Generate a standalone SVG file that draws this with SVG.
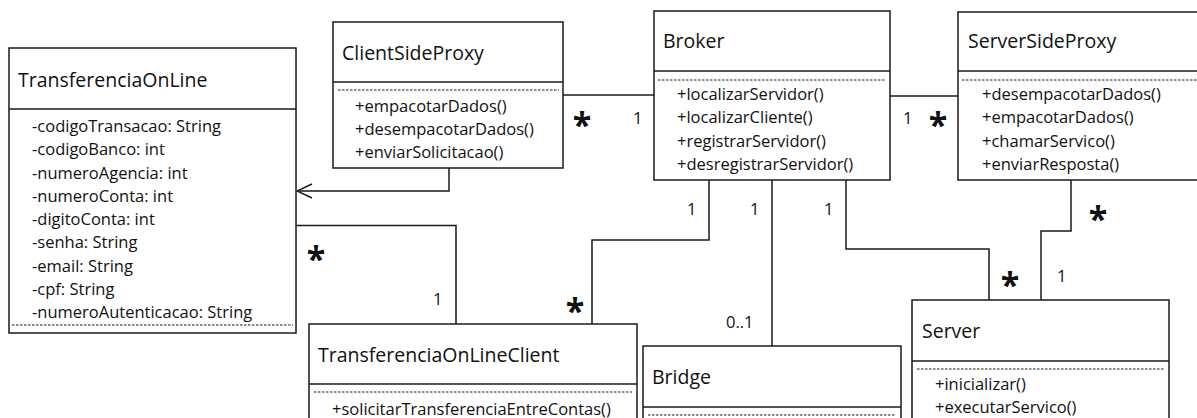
<svg xmlns="http://www.w3.org/2000/svg" width="1197" height="418" viewBox="0 0 1197 418">
<defs>
<style>
.box{fill:#fff;stroke:#1a1a1a;stroke-width:1.5}
.div{stroke:#1a1a1a;stroke-width:1.5}
.dash{stroke:#1a1a1a;stroke-width:1;stroke-dasharray:2.5,1.5}
.title{font-family:"Open Sans","Liberation Sans",sans-serif;font-size:19.5px;fill:#111}
.mem{font-family:"Open Sans","Liberation Sans",sans-serif;font-size:16.5px;fill:#111}
.lbl{font-family:"Open Sans","Liberation Sans",sans-serif;font-size:16.5px;fill:#111}
.star{font-family:"Open Sans","Liberation Sans",sans-serif;font-size:34px;font-weight:bold;fill:#111;text-anchor:middle}
.conn{fill:none;stroke:#1a1a1a;stroke-width:1.5}
</style>
<marker id="open" viewBox="0 0 20 20" refX="19" refY="10" markerWidth="20" markerHeight="20" markerUnits="userSpaceOnUse" orient="auto">
<path d="M4,3 L19,10 L4,17" fill="none" stroke="#1a1a1a" stroke-width="1.5"/>
</marker>
</defs>
<rect width="1197" height="418" fill="#fff"/>

<g id="connectors">
<path class="conn" d="M563,95 H654"/>
<path class="conn" d="M890,96 H958"/>
<path class="conn" d="M449,168 V191 H297" marker-end="url(#open)"/>
<path class="conn" d="M296,225.5 H456 V324"/>
<path class="conn" d="M709,180 V240 H592 V324"/>
<path class="conn" d="M772,180 V346"/>
<path class="conn" d="M846,180 V249 H989 V300"/>
<path class="conn" d="M1071,180 V231 H1041 V300"/>
<text class="star" x="582" y="137">*</text>
<text class="lbl" x="633" y="124">1</text>
<text class="lbl" x="903" y="124">1</text>
<text class="star" x="938" y="137">*</text>
<text class="star" x="316" y="271">*</text>
<text class="lbl" x="433" y="305">1</text>
<text class="star" x="575" y="323">*</text>
<text class="lbl" x="687" y="215">1</text>
<text class="lbl" x="750" y="215">1</text>
<text class="lbl" x="726" y="328">0..1</text>
<text class="lbl" x="824" y="215">1</text>
<text class="star" x="1010" y="297">*</text>
<text class="star" x="1098" y="231">*</text>
<text class="lbl" x="1057" y="282">1</text>
</g>

<g id="TransferenciaOnLine">
<rect class="box" x="9" y="48" width="287" height="285"/>
<line class="div" x1="9" y1="109" x2="296" y2="109"/>
<line class="dash" x1="12" y1="325" x2="293" y2="325"/>
<text class="title" x="18" y="87">TransferenciaOnLine</text>
<text class="mem" x="32" y="132">-codigoTransacao: String</text>
<text class="mem" x="32" y="155.25">-codigoBanco: int</text>
<text class="mem" x="32" y="178.5">-numeroAgencia: int</text>
<text class="mem" x="32" y="201.75">-numeroConta: int</text>
<text class="mem" x="32" y="225">-digitoConta: int</text>
<text class="mem" x="32" y="248.25">-senha: String</text>
<text class="mem" x="32" y="271.5">-email: String</text>
<text class="mem" x="32" y="294.75">-cpf: String</text>
<text class="mem" x="32" y="318">-numeroAutenticacao: String</text>
</g>

<g id="ClientSideProxy">
<rect class="box" x="333" y="22" width="230" height="146"/>
<line class="div" x1="333" y1="82" x2="563" y2="82"/>
<line class="dash" x1="338" y1="90" x2="559" y2="90"/>
<text class="title" x="342" y="60">ClientSideProxy</text>
<text class="mem" x="355" y="112">+empacotarDados()</text>
<text class="mem" x="355" y="135">+desempacotarDados()</text>
<text class="mem" x="355" y="158">+enviarSolicitacao()</text>
</g>

<g id="Broker">
<rect class="box" x="654" y="11" width="236" height="169"/>
<line class="div" x1="654" y1="71" x2="890" y2="71"/>
<line class="dash" x1="658" y1="80" x2="886" y2="80"/>
<text class="title" x="663" y="48">Broker</text>
<text class="mem" x="677" y="100">+localizarServidor()</text>
<text class="mem" x="677" y="123">+localizarCliente()</text>
<text class="mem" x="677" y="147">+registrarServidor()</text>
<text class="mem" x="677" y="170">+desregistrarServidor()</text>
</g>

<g id="ServerSideProxy">
<rect class="box" x="958" y="12" width="260" height="168"/>
<line class="div" x1="958" y1="71" x2="1218" y2="71"/>
<line class="dash" x1="962" y1="80" x2="1197" y2="80"/>
<text class="title" x="968" y="48">ServerSideProxy</text>
<text class="mem" x="982" y="100">+desempacotarDados()</text>
<text class="mem" x="982" y="123">+empacotarDados()</text>
<text class="mem" x="982" y="147">+chamarServico()</text>
<text class="mem" x="982" y="170">+enviarResposta()</text>
</g>

<g id="Server">
<rect class="box" x="912" y="300" width="257" height="130"/>
<line class="div" x1="912" y1="361" x2="1169" y2="361"/>
<line class="dash" x1="917" y1="369" x2="1164" y2="369"/>
<text class="title" x="922" y="338">Server</text>
<text class="mem" x="935" y="390">+inicializar()</text>
<text class="mem" x="935" y="413">+executarServico()</text>
</g>

<g id="TransferenciaOnLineClient">
<rect class="box" x="309" y="324" width="328" height="110"/>
<line class="div" x1="309" y1="384" x2="637" y2="384"/>
<line class="dash" x1="314" y1="392" x2="632" y2="392"/>
<text class="title" x="318" y="362">TransferenciaOnLineClient</text>
<text class="mem" x="332" y="415">+solicitarTransferenciaEntreContas()</text>
</g>

<g id="Bridge">
<rect class="box" x="643" y="346" width="258" height="90"/>
<line class="div" x1="643" y1="407" x2="901" y2="407"/>
<line class="dash" x1="648" y1="415" x2="896" y2="415"/>
<text class="title" x="652" y="384">Bridge</text>
</g>
</svg>
